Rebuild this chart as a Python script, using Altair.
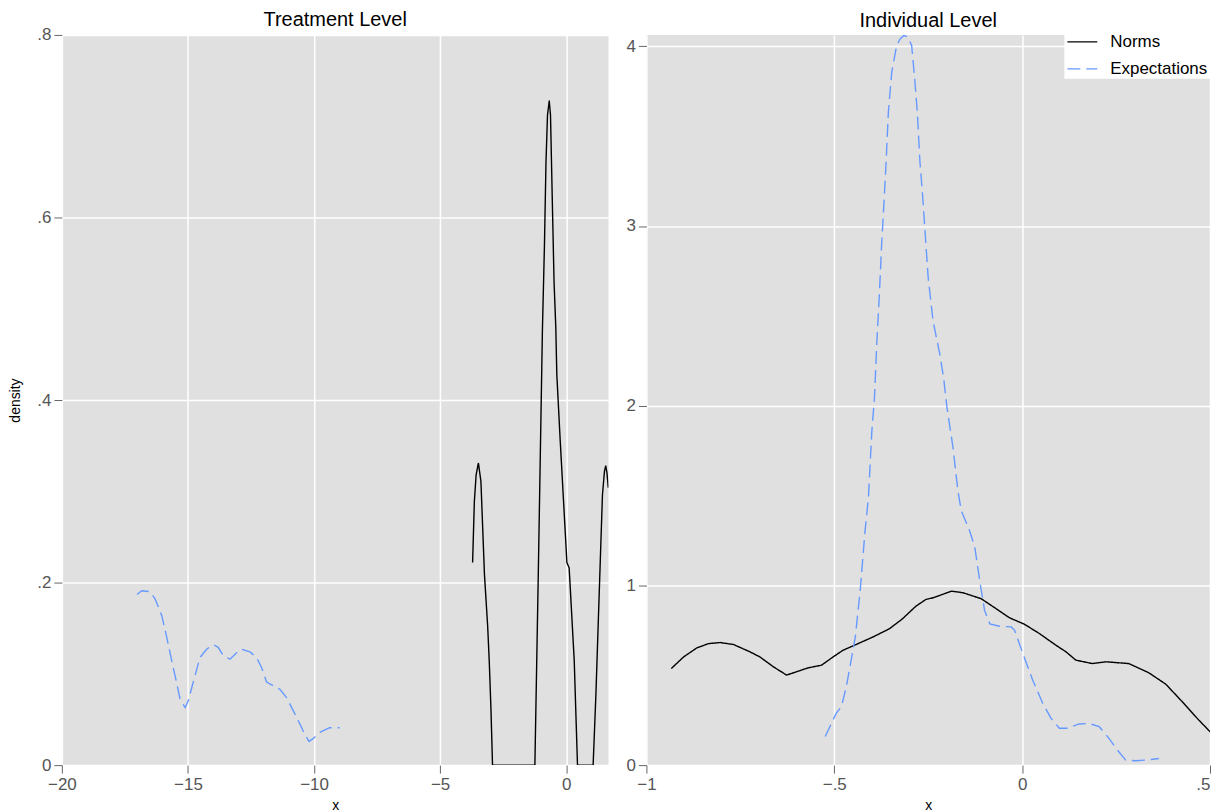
import altair as alt
import pandas as pd

# ---------------- data ----------------
# Treatment Level panel
treat_norms_x = [-3.71, -3.64, -3.57, -3.48, -3.38, -3.24, -3.11, -3.05, -2.98, -2.92,
                 -1.24, -1.11, -0.94, -0.86, -0.80, -0.74, -0.67, -0.62, -0.55, -0.48,
                 -0.41, -0.37, -0.24, 0.03, 0.12, 0.32, 0.45,
                 1.07, 1.18, 1.31, 1.44, 1.52, 1.57, 1.62, 1.67]
treat_norms_y = [0.222, 0.289, 0.318, 0.331, 0.311, 0.209, 0.151, 0.114, 0.060, 0.0,
                 0.0, 0.201, 0.478, 0.570, 0.660, 0.712, 0.728, 0.712, 0.620, 0.530,
                 0.479, 0.428, 0.358, 0.222, 0.216, 0.115, 0.0,
                 0.0, 0.077, 0.187, 0.296, 0.322, 0.328, 0.320, 0.304]

treat_exp_x = [-17.02, -16.83, -16.50, -16.30, -16.04, -15.84, -15.64, -15.44, -15.31,
               -15.11, -14.98, -14.78, -14.52, -14.26, -13.99, -13.80, -13.60, -13.33,
               -13.07, -12.87, -12.54, -12.28, -12.08, -11.88, -11.62, -11.35, -11.09,
               -10.83, -10.56, -10.37, -10.20, -10.04, -9.77, -9.38, -8.98]
treat_exp_y = [0.187, 0.191, 0.190, 0.182, 0.164, 0.140, 0.114, 0.089, 0.072,
               0.063, 0.071, 0.092, 0.118, 0.127, 0.132, 0.129, 0.120, 0.116,
               0.123, 0.127, 0.124, 0.118, 0.107, 0.091, 0.087, 0.083, 0.074,
               0.060, 0.045, 0.034, 0.026, 0.029, 0.036, 0.041, 0.041]

# Individual Level panel
ind_norms_x = [-0.934, -0.901, -0.866, -0.835, -0.804, -0.768, -0.724, -0.698, -0.662,
               -0.627, -0.601, -0.570, -0.534, -0.503, -0.477, -0.442, -0.397, -0.353,
               -0.318, -0.283, -0.256, -0.237, -0.188, -0.157, -0.109, -0.069, -0.034,
               0.006, 0.046, 0.090, 0.117, 0.143, 0.187, 0.223, 0.284, 0.337, 0.382,
               0.426, 0.470, 0.507]
ind_norms_y = [0.537, 0.602, 0.652, 0.676, 0.682, 0.671, 0.630, 0.602, 0.547,
               0.501, 0.519, 0.541, 0.556, 0.602, 0.639, 0.671, 0.713, 0.759,
               0.815, 0.884, 0.922, 0.931, 0.968, 0.959, 0.926, 0.870, 0.820,
               0.784, 0.732, 0.667, 0.630, 0.584, 0.565, 0.575, 0.565, 0.514, 0.451,
               0.353, 0.251, 0.171]

ind_exp_x = [-0.524, -0.495, -0.481, -0.468, -0.455, -0.444, -0.431, -0.418, -0.409,
             -0.400, -0.393, -0.387, -0.380, -0.374, -0.369, -0.362, -0.356, -0.347,
             -0.334, -0.325, -0.315, -0.304, -0.294, -0.286, -0.279, -0.272, -0.265,
             -0.259, -0.250, -0.237, -0.219, -0.209, -0.200, -0.184, -0.171, -0.162,
             -0.140, -0.126, -0.113, -0.100, -0.086, -0.060, -0.029, -0.020, 0.002,
             0.028, 0.055, 0.077, 0.099, 0.121, 0.152, 0.178, 0.205, 0.231, 0.253,
             0.275, 0.302, 0.333, 0.364]
ind_exp_y = [0.159, 0.288, 0.325, 0.436, 0.584, 0.713, 0.972, 1.305, 1.490,
             1.860, 2.044, 2.340, 2.617, 2.895, 3.080, 3.357, 3.634, 3.856,
             4.004, 4.040, 4.060, 4.052, 4.004, 3.819, 3.634, 3.357, 3.172,
             2.987, 2.710, 2.470, 2.285, 2.155, 1.989, 1.767, 1.527, 1.416,
             1.305, 1.213, 1.028, 0.861, 0.786, 0.773, 0.769, 0.750, 0.621,
             0.473, 0.343, 0.260, 0.205, 0.205, 0.229, 0.232, 0.214, 0.149, 0.085,
             0.029, 0.024, 0.029, 0.037]

series_names = ["Norms", "Expectations"]
series_colors = ["#000000", "#6699ff"]
series_dashes = [[1, 0], [13, 6]]

treat_xticks = [-20, -15, -10, -5, 0]
treat_yticks = [0, 0.2, 0.4, 0.6, 0.8]
ind_xticks = [-1, -0.5, 0, 0.5]
ind_yticks = [0, 1, 2, 3, 4]


def make_df(nx, ny, ex, ey):
    rows = []
    for i, (a, b) in enumerate(zip(nx, ny)):
        rows.append({"x": a, "density": b, "series": "Norms", "idx": i})
    for i, (a, b) in enumerate(zip(ex, ey)):
        rows.append({"x": a, "density": b, "series": "Expectations", "idx": i})
    return pd.DataFrame(rows)


treat_df = make_df(treat_norms_x, treat_norms_y, treat_exp_x, treat_exp_y)
ind_df = make_df(ind_norms_x, ind_norms_y, ind_exp_x, ind_exp_y)

label_expr = "replace(format(datum.value, '~g'), '0.', '.')"

color_scale = alt.Scale(domain=series_names, range=series_colors)
dash_scale = alt.Scale(domain=series_names, range=series_dashes)
legend = alt.Legend(title=None, orient="none", legendX=1005, legendY=-11,
                    fillColor="white", padding=2, symbolType="stroke",
                    symbolSize=900, symbolStrokeWidth=1.4, labelFontSize=17,
                    labelFont="Liberation Sans", labelColor="#000000",
                    rowPadding=3, labelOffset=12)

LW = 548
RW = 565
H = 732


def panel(df, title, xdom, ydom, xticks, yticks, ytitle, width, title_dy, last_right):
    yaxis_kw = dict(values=yticks, labelExpr=label_expr)
    yaxis_kw["title"] = ytitle if ytitle else None
    xaxis_kw = dict(values=xticks, labelExpr=label_expr, title="x", labelFlush=False)
    if last_right:
        xaxis_kw["labelAlign"] = {"condition": {"test": "datum.value >= 0.5", "value": "right"},
                                  "value": "center"}
    return alt.Chart(df, title=alt.TitleParams(title, anchor="middle", dy=title_dy)).mark_line(
        strokeWidth=1.4, clip=True
    ).encode(
        x=alt.X("x:Q", scale=alt.Scale(domain=xdom, nice=False, zero=False),
                axis=alt.Axis(**xaxis_kw)),
        y=alt.Y("density:Q", scale=alt.Scale(domain=ydom, nice=False, zero=False),
                axis=alt.Axis(**yaxis_kw)),
        color=alt.Color("series:N", scale=color_scale, legend=legend),
        strokeDash=alt.StrokeDash("series:N", scale=dash_scale, legend=legend),
        order=alt.Order("idx:Q"),
    ).properties(width=width, height=H)


left = panel(treat_df, "Treatment Level", [-20, 1.68], [0, 0.8],
             treat_xticks, treat_yticks, "density", LW, 8, False)
right = panel(ind_df, "Individual Level", [-1, 0.5], [0, 4.063],
              ind_xticks, ind_yticks, None, RW, 0, True)

chart = alt.hconcat(left, right, spacing=17).properties(
    padding={"left": 0, "top": 1, "right": 0, "bottom": 0}
).configure_view(
    fill="#e0e0e0", stroke=None
).configure_axis(
    labelFont="Liberation Sans", labelFontSize=17, labelColor="#555555",
    titleFont="Liberation Sans", titleFontSize=14, titleFontWeight="normal",
    titleColor="#000000", tickColor="#666666", tickSize=8, labelPadding=3,
    domain=False, gridColor="#ffffff", gridWidth=1.5
).configure_axisY(
    titlePadding=14
).configure_axisX(
    titlePadding=6
).configure_title(
    font="Liberation Sans", fontSize=20, fontWeight="normal", color="#000000",
    offset=4
)

chart.save("out.html", embed_options={"renderer": "svg", "actions": False})
